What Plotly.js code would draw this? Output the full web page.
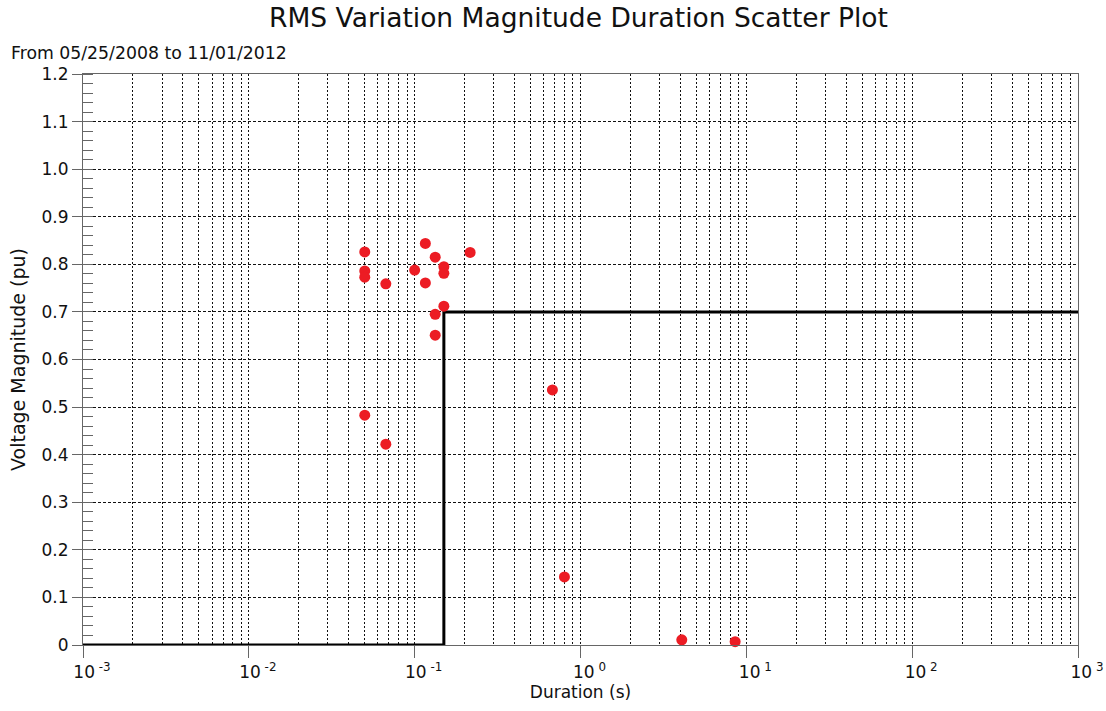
<!DOCTYPE html>
<html>
<head>
<meta charset="utf-8">
<script src="https://cdn.plot.ly/plotly-3.0.1.min.js"></script>
<style>
  html, body { margin: 0; padding: 0; background: #ffffff; }
  #chart { width: 1106px; height: 711px; }
</style>
</head>
<body>
<div id="chart"></div>
<script>
// RMS variation events: duration (s) and retained voltage (pu)
const eventDuration = [0.05, 0.05, 0.05, 0.05, 0.067, 0.067, 0.1, 0.116, 0.116, 0.133,
                       0.15, 0.15, 0.15, 0.133, 0.133, 0.216, 0.677, 0.80, 4.08, 8.56];
const eventMagnitude = [0.826, 0.786, 0.773, 0.483, 0.759, 0.422, 0.788, 0.844, 0.761, 0.815,
                        0.795, 0.781, 0.712, 0.695, 0.651, 0.825, 0.536, 0.143, 0.011, 0.007];

// Ride-through limit curve
const limitDuration = [0.001, 0.15, 0.15, 1000];
const limitMagnitude = [0, 0, 0.7, 0.7];

// Axis ticks
const xTickVals = [0.001, 0.01, 0.1, 1, 10, 100, 1000];
const xTickText = ['10<sup> -3</sup>', '10<sup> -2</sup>', '10<sup> -1</sup>', '10<sup> 0</sup>',
                   '10<sup> 1</sup>', '10<sup> 2</sup>', '10<sup> 3</sup>'];
const yTickVals = [0, 0.1, 0.2, 0.3, 0.4, 0.5, 0.6, 0.7, 0.8, 0.9, 1.0, 1.1, 1.2];
const yTickText = ['0', '0.1', '0.2', '0.3', '0.4', '0.5', '0.6', '0.7', '0.8', '0.9', '1.0', '1.1', '1.2'];

// 2..9 gridlines inside every decade
const xMinorVals = [];
for (let e = -3; e < 3; e++) {
  for (let m = 2; m <= 9; m++) xMinorVals.push(m * Math.pow(10, e));
}

const FONT = 'DejaVu Sans, Verdana, sans-serif';
const GRID = '#111111';
const AXIS = '#666666';

const traces = [
  {
    type: 'scatter',
    mode: 'lines',
    x: limitDuration,
    y: limitMagnitude,
    line: { color: '#000000', width: 3 },
    hoverinfo: 'skip',
    showlegend: false
  },
  {
    type: 'scatter',
    mode: 'markers',
    x: eventDuration,
    y: eventMagnitude,
    marker: { color: '#ec1c24', size: 11, line: { width: 0 } },
    cliponaxis: false,
    showlegend: false
  }
];

const layout = {
  width: 1106,
  height: 711,
  paper_bgcolor: '#ffffff',
  plot_bgcolor: '#ffffff',
  margin: { l: 83, r: 28, t: 74, b: 66 },
  font: { family: FONT, color: '#111111' },
  showlegend: false,
  title: {
    text: 'RMS Variation Magnitude Duration Scatter Plot',
    font: { family: FONT, size: 26.5, color: '#111111' },
    xref: 'paper', x: 0.498, xanchor: 'center',
    yref: 'container', y: 0.975, yanchor: 'middle'
  },
  annotations: [
    {
      text: 'From 05/25/2008 to 11/01/2012',
      xref: 'paper', yref: 'paper',
      x: -0.0745, y: 1.037, xanchor: 'left', yanchor: 'middle',
      showarrow: false,
      font: { family: FONT, size: 17.3, color: '#111111' }
    }
  ],
  xaxis: {
    type: 'log',
    range: [-3, 3],
    tickmode: 'array',
    tickvals: xTickVals,
    ticktext: xTickText,
    ticks: 'outside',
    ticklen: 12,
    tickcolor: AXIS,
    tickfont: { family: FONT, size: 17, color: '#111111' },
    ticklabelshift: 9,
    showline: true,
    mirror: true,
    linecolor: AXIS,
    linewidth: 1,
    showgrid: true,
    gridcolor: GRID,
    gridwidth: 1,
    griddash: '2px,2px',
    zeroline: false,
    minor: {
      tickmode: 'array',
      tickvals: xMinorVals,
      ticks: '',
      showgrid: true,
      gridcolor: GRID,
      gridwidth: 1,
      griddash: '2px,2px'
    },
    title: {
      text: 'Duration (s)',
      font: { family: FONT, size: 17, color: '#111111' },
      standoff: 2
    }
  },
  yaxis: {
    range: [0, 1.2],
    tickmode: 'array',
    tickvals: yTickVals,
    ticktext: yTickText,
    ticks: 'outside',
    ticklen: 10,
    tickcolor: AXIS,
    tickfont: { family: FONT, size: 17, color: '#111111' },
    showline: true,
    mirror: true,
    linecolor: AXIS,
    linewidth: 1,
    showgrid: true,
    gridcolor: GRID,
    gridwidth: 1,
    griddash: '3px,2px',
    zeroline: false,
    minor: {
      tickmode: 'linear',
      tick0: 0,
      dtick: 0.02,
      ticks: 'inside',
      ticklen: 10,
      tickcolor: AXIS,
      showgrid: false
    },
    title: {
      text: 'Voltage Magnitude (pu)',
      font: { family: FONT, size: 19, color: '#111111' },
      standoff: 10
    }
  }
};

Plotly.newPlot('chart', traces, layout, { displayModeBar: false, staticPlot: true });
</script>
</body>
</html>
